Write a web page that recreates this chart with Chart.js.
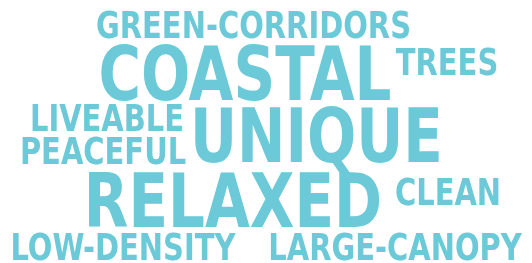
<!DOCTYPE html>
<html>
<head>
<meta charset="utf-8">
<script src="https://cdn.jsdelivr.net/npm/chart.js@4.4.1/dist/chart.umd.min.js"></script>
<style>
html,body{margin:0;padding:0;background:#fff;}
#wrap{width:532px;height:263px;}
</style>
</head>
<body>
<div id="wrap"><canvas id="c" width="532" height="263"></canvas></div>
<script>
// Words and their weights (relative frequency)
const words   = ["GREEN-CORRIDORS","COASTAL","TREES","LIVEABLE","UNIQUE","PEACEFUL","RELAXED","CLEAN","LOW-DENSITY","LARGE-CANOPY"];
const weights = [1, 2, 1, 1, 2, 1, 2, 1, 1, 1];
// Word placement in the cloud (centre x, baseline y)
const posX = [253.5, 245, 447, 107, 316.5, 103, 233, 448, 123, 395];
const posY = [38, 100, 75, 131, 162, 164, 227, 205, 260, 260];

const COLOR = '#6bc9d8';
const FONT = '"DejaVu Sans Condensed", "DejaVu Sans", sans-serif';
const BASE_SIZE = 37;     // px per unit weight
const CONDENSE = 0.87;    // narrow face emulation

const wordPlugin = {
  id: 'wordcloud',
  afterDatasetsDraw(chart) {
    const ctx = chart.ctx;
    const meta = chart.getDatasetMeta(0);
    ctx.save();
    ctx.fillStyle = COLOR;
    ctx.textAlign = 'center';
    ctx.textBaseline = 'alphabetic';
    meta.data.forEach((pt, i) => {
      const size = weights[i] * BASE_SIZE;
      ctx.save();
      ctx.font = 'bold ' + size + 'px ' + FONT;
      ctx.translate(pt.x, pt.y);
      ctx.scale(CONDENSE, 1);
      ctx.fillText(words[i], 0, 0);
      ctx.restore();
    });
    ctx.restore();
  }
};

new Chart(document.getElementById('c'), {
  type: 'scatter',
  data: {
    labels: words,
    datasets: [{
      data: posX.map((x, i) => ({x: x, y: posY[i]})),
      pointRadius: 0,
      pointHoverRadius: 0
    }]
  },
  options: {
    responsive: false,
    animation: false,
    layout: {padding: 0},
    plugins: {legend: {display: false}, tooltip: {enabled: false}},
    scales: {
      x: {type: 'linear', min: 0, max: 532, display: false},
      y: {type: 'linear', min: 0, max: 263, reverse: true, display: false}
    }
  },
  plugins: [wordPlugin]
});
</script>
</body>
</html>
